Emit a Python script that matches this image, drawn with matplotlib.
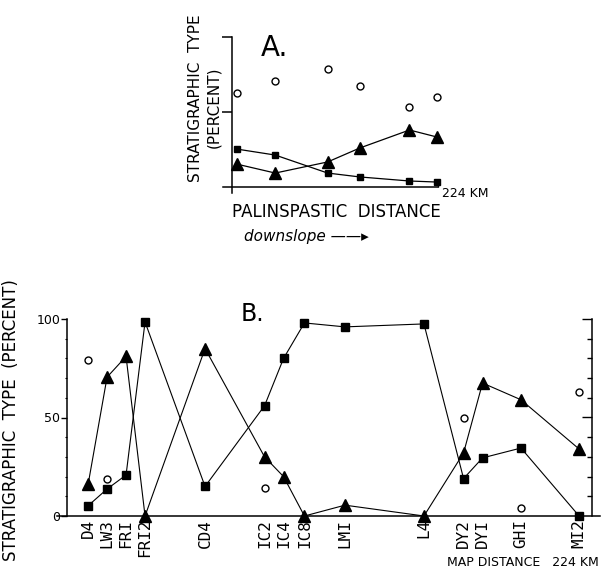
import matplotlib
matplotlib.use("Agg")
import matplotlib.pyplot as plt
import numpy as np

# ---------------- data ----------------
# Panel A (palinspastic distance, km)
a_dist = [5, 47, 104, 139, 193, 223]
a_circle = [62.7, 70.7, 78.7, 67.3, 53.3, 60.0]
a_square = [25.3, 21.3, 9.3, 6.7, 4.0, 3.3]
a_triangle = [15.3, 9.3, 16.7, 26.0, 38.0, 33.3]

# Panel B (map distance, km)
b_sites = ["D4", "LW3", "FRI", "FRI2", "CD4", "IC2", "IC4", "IC8", "LMI",
           "L4", "DY2", "DYI", "GHI", "MI2"]
b_dist = [9.0, 17.1, 25.2, 33.3, 58.9, 84.3, 92.4, 101.3, 118.6, 152.3,
          169.2, 177.3, 193.7, 218.5]
b_square = [5.2, 13.7, 20.8, 98.5, 15.0, 56.0, 80.0, 98.0, 96.0, 97.5,
            19.0, 29.5, 34.5, 0.0]
b_triangle = [16.0, 70.5, 81.0, 0.0, 85.0, 30.0, 20.0, 0.0, 5.5, 0.0,
              32.0, 67.5, 59.0, 34.0]
b_circle_sites = ["D4", "LW3", "IC2", "DY2", "GHI", "MI2"]
b_circle = [79.0, 19.0, 14.0, 50.0, 4.0, 63.0]

W, H = 608, 577
fig = plt.figure(figsize=(W / 100, H / 100), dpi=100)


def box(x0, y0, x1, y1):
    return [x0 / W, 1 - y1 / H, (x1 - x0) / W, (y1 - y0) / H]


def ftext(x, y, s, **kw):
    fig.text(x / W, 1 - y / H, s, **kw)


# ---------------- panel A ----------------
axA = fig.add_axes(box(223, 37, 440, 193))
axA.set_xlim((223 - 232) * 224 / 206, (440 - 232) * 224 / 206)
axA.set_ylim(-4, 100)
axA.patch.set_alpha(0)
for s in ["top", "right"]:
    axA.spines[s].set_visible(False)
axA.spines["left"].set_position(("data", 0))
axA.spines["left"].set_bounds(-4, 100)
axA.spines["bottom"].set_position(("data", 0))
axA.spines["bottom"].set_bounds((223 - 232) * 224 / 206, 224)
for s in ["left", "bottom"]:
    axA.spines[s].set_linewidth(1.1)
axA.set_yticks([50, 100])
axA.tick_params(axis="y", direction="out", length=7, width=1.1, labelleft=False)
axA.set_xticks([224])
axA.tick_params(axis="x", direction="in", length=3, width=1.0, labelbottom=False)

axA.plot(a_dist, a_square, "-", color="black", lw=0.9, marker="s", ms=5, clip_on=False)
axA.plot(a_dist, a_triangle, "-", color="black", lw=0.9, marker="^", ms=8, clip_on=False)
axA.plot(a_dist, a_circle, "none", marker="o", ms=5, mfc="white", mec="black", mew=1.0, clip_on=False)

ftext(274, 48, "A.", fontsize=20, ha="center", va="center")
ftext(442, 193, "224 KM", fontsize=9, ha="left", va="center")
ftext(336, 212, "PALINSPASTIC  DISTANCE", fontsize=12, ha="center", va="center")
ftext(306, 237, "downslope \u2014\u2014\u25B8", fontsize=11, style="italic", ha="center", va="center")
ftext(196, 98, "STRATIGRAPHIC  TYPE", fontsize=11, rotation=90, ha="center", va="center")
ftext(214, 107, "(PERCENT)", fontsize=11, rotation=90, ha="center", va="center")

# ---------------- panel B ----------------
axB = fig.add_axes(box(57, 316, 600, 520))
xl = ((57 - 67) * 224 / 525, (600 - 67) * 224 / 525)
yl = ((516 - 520) / 1.97, (516 - 316) / 1.97)
axB.set_xlim(*xl)
axB.set_ylim(*yl)
axB.patch.set_alpha(0)
for s in ["top", "right"]:
    axB.spines[s].set_visible(False)
axB.spines["left"].set_position(("data", 0))
axB.spines["left"].set_bounds(0, 100)
axB.spines["bottom"].set_position(("data", 0))
axB.spines["bottom"].set_bounds(*xl)
for s in ["left", "bottom"]:
    axB.spines[s].set_linewidth(1.1)
axB.set_yticks([0, 50, 100])
axB.set_yticklabels(["0", "50", "100"], fontsize=9)
axB.set_yticks(np.arange(10, 100, 10), minor=True)
axB.tick_params(axis="y", which="major", direction="out", length=4, width=1.0, pad=1)
axB.tick_params(axis="y", which="minor", direction="out", length=1.5, width=0.8)
axB.set_xticks(b_dist)
axB.set_xticklabels(b_sites, rotation=90, fontsize=11.5, family="DejaVu Sans Mono")
axB.tick_params(axis="x", length=0, pad=2)

axR = axB.twinx()
axR.set_ylim(*yl)
for s in ["top", "left", "bottom"]:
    axR.spines[s].set_visible(False)
axR.spines["right"].set_position(("data", 224))
axR.spines["right"].set_bounds(0, 100)
axR.spines["right"].set_linewidth(1.1)
axR.set_yticks([50, 100])
axR.set_yticks(np.arange(10, 100, 10), minor=True)
axR.tick_params(axis="y", which="major", direction="in", length=7, width=1.0, labelright=False)
axR.tick_params(axis="y", which="minor", direction="in", length=3.5, width=1.0, labelright=False)

axB.plot(b_dist, b_square, "-", color="black", lw=0.8, marker="s", ms=6, clip_on=False)
axB.plot(b_dist, b_triangle, "-", color="black", lw=0.8, marker="^", ms=9, clip_on=False)
cx = [b_dist[b_sites.index(s)] for s in b_circle_sites]
axB.plot(cx, b_circle, "none", marker="o", ms=5, mfc="white", mec="black", mew=1.0, clip_on=False)

ftext(252, 314, "B.", fontsize=17, ha="center", va="center")
ftext(523, 562, "MAP DISTANCE   224 KM", fontsize=9, ha="center", va="center")
ftext(11, 420, "STRATIGRAPHIC  TYPE  (PERCENT)", fontsize=12, rotation=90, ha="center", va="center")

fig.savefig("out.png", dpi=100)
